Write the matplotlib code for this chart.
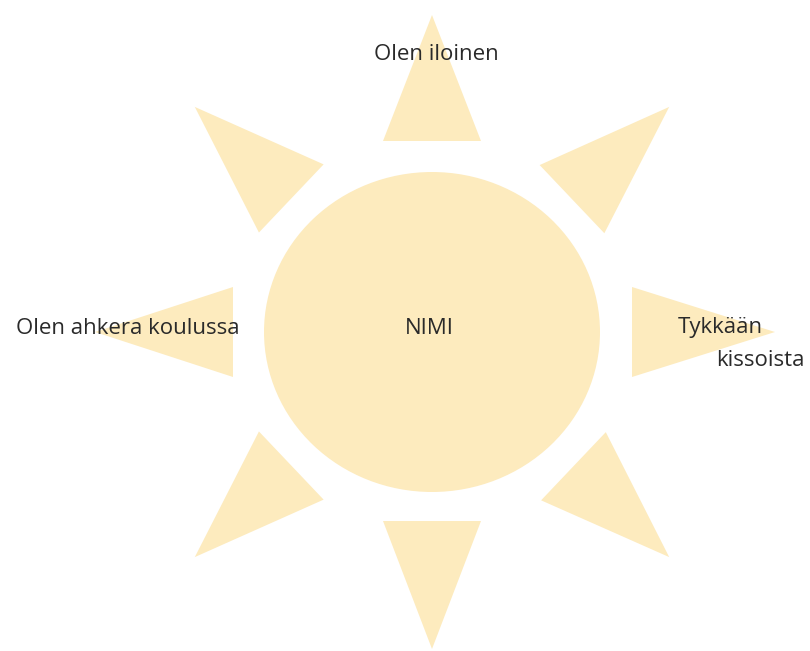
import numpy as np
import matplotlib
matplotlib.use("Agg")
import matplotlib.pyplot as plt
from matplotlib.patches import Ellipse, Polygon

# Sun diagram geometry (pixel space of an 810x651 canvas)
center = (432, 332)
body_size = (336, 320)             # ellipse width, height
ray_angles = [90, 43.5, 0, -43.5, -90, -136.5, 180, 136.5]   # degrees, 90 = up
ray_apex = [317, 327, 343, 327, 317, 327, 337, 327]  # distance of ray tip
ray_base = [191, 193, 200, 195, 189, 194, 199, 194]  # distance of ray base
ray_halfwidth = [49, 47, 45, 47, 49, 47, 45, 47]

labels = ["Olen iloinen", "Olen ahkera koulussa", "NIMI", "Tykkään", "kissoista"]
label_pos = [(436, 55), (128, 329), (429, 329), (720, 327), (760, 361)]

fill = "#FDEBBE"
textc = "#2a2a2a"

fig = plt.figure(figsize=(8.10, 6.51), dpi=100)
ax = fig.add_axes([0, 0, 1, 1])
ax.set_xlim(0, 810)
ax.set_ylim(651, 0)
ax.axis("off")

ax.add_patch(Ellipse(center, body_size[0], body_size[1], facecolor=fill, edgecolor="none", zorder=1))

for a, ra, rb, hw in zip(ray_angles, ray_apex, ray_base, ray_halfwidth):
    t = np.deg2rad(a)
    d = np.array([np.cos(t), -np.sin(t)])
    n = np.array([d[1], -d[0]])
    c = np.array(center, dtype=float)
    apex = c + ra * d
    b1 = c + rb * d + hw * n
    b2 = c + rb * d - hw * n
    ax.add_patch(Polygon([apex, b1, b2], closed=True, facecolor=fill, edgecolor="none", zorder=1))

for s, (x, y) in zip(labels, label_pos):
    ax.text(x, y, s, ha="center", va="center", fontsize=16, color=textc,
            family="Open Sans", zorder=3)

fig.savefig("out.png", dpi=100, facecolor="white")
